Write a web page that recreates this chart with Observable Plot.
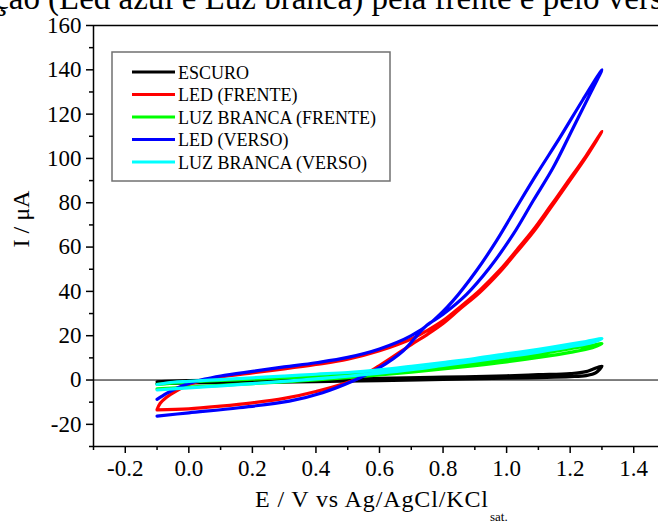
<!DOCTYPE html>
<html><head><meta charset="utf-8">
<script src="https://cdn.jsdelivr.net/npm/d3@7"></script>
<script src="https://cdn.jsdelivr.net/npm/@observablehq/plot@0.6"></script>
<style>
body{margin:0;background:#fff;}
#chart{position:relative;width:658px;height:523px;overflow:hidden;background:#fff}
svg{font-family:"Liberation Serif",serif}
</style>
</head><body><div id="chart"></div>
<script>
const seriesNames = ["ESCURO","LED (FRENTE)","LUZ BRANCA (FRENTE)","LED (VERSO)","LUZ BRANCA (VERSO)"];
const seriesColors = ["#000000","#ff0000","#00ff00","#0000ff","#00ffff"];

const escuroE = [-0.1,0,0.2,0.4,0.6,0.8,1.0,1.1,1.2,1.25,1.3,1.28,1.25,1.2,1.1,1.0,0.8,0.6,0.4,0.2,0,-0.1];
const escuroI = [-0.8,-0.3,0.1,0.4,0.8,1.3,1.9,2.4,2.9,3.8,6.3,3.2,2.0,1.5,1.1,0.8,0.3,-0.3,-0.7,-1.0,-1.3,-1.6];

const ledFrenteE = [-0.1,-0.09,-0.07,-0.04,0,0.05,0.1,0.2,0.3,0.4,0.5,0.6,0.7,0.75,0.8,0.853,0.916,0.979,1.032,1.084,1.137,1.189,1.25,1.3,1.25,1.189,1.137,1.084,1.032,0.979,0.916,0.853,0.8,0.75,0.7,0.6,0.52,0.4,0.3,0.2,0.1,0,-0.1];
const ledFrenteI = [-13.3,-10.5,-7.8,-5.0,-2.0,0,1.3,3.2,5.0,7.0,9.4,13.2,18.5,22.3,26.8,32.9,40.6,49.7,58.7,67.8,78.3,88.8,101.2,112.2,100.6,88.0,77.4,66.8,57.8,48.8,39.6,32.0,25.5,20.5,16.0,6.5,0,-5.2,-8.3,-10.3,-11.8,-13.0,-13.5];

const luzFrenteE = [-0.1,0,0.1,0.2,0.3,0.4,0.5,0.6,0.7,0.8,0.9,1.0,1.1,1.2,1.25,1.3,1.27,1.2,1.1,1.0,0.9,0.8,0.7,0.6,0.5,0.4,0.3,0.2,0.1,0,-0.1];
const luzFrenteI = [-2.0,-0.8,-0.2,0.4,1.0,1.7,2.5,3.4,4.6,6.0,7.6,9.6,11.6,14.2,15.2,16.4,14.6,12.5,10.2,8.2,6.5,5.0,3.6,2.3,1.1,0.1,-0.8,-1.6,-2.4,-3.2,-4.0];

const ledVersoE = [-0.1,-0.07,-0.04,0,0.05,0.1,0.2,0.3,0.4,0.5,0.6,0.7,0.768,0.831,0.905,0.968,1.031,1.095,1.168,1.24,1.3,1.268,1.21,1.147,1.084,1.021,0.947,0.874,0.8,0.75,0.726,0.674,0.6,0.516,0.421,0.316,0.158,0,-0.1];
const ledVersoI = [-8.7,-6.0,-3.8,-1.6,0.4,1.8,3.9,5.9,7.8,10.2,14.0,20.0,26.7,35.7,49.3,62.8,77.9,93,109.5,126.5,140,130.6,114,96,81,65.8,50.8,38.7,29.7,24.8,21.4,13.1,5.6,-0.45,-5.7,-9.5,-12.5,-14.8,-16.3];

const luzVersoE = [-0.1,-0.05,0,0.1,0.2,0.3,0.4,0.5,0.6,0.7,0.8,0.9,1.0,1.1,1.2,1.25,1.3,1.27,1.2,1.1,1.0,0.9,0.8,0.7,0.6,0.5,0.4,0.3,0.2,0.1,0,-0.1];
const luzVersoI = [-2.0,-1.0,-0.6,0.2,1.0,1.8,2.6,3.4,4.6,6.2,7.9,9.7,11.8,13.9,16.2,17.4,18.7,17.0,15.0,12.6,10.5,8.5,6.6,4.7,3.1,1.7,0.5,-0.6,-1.6,-2.6,-3.5,-4.5];

const xTicks = [-0.2,0.0,0.2,0.4,0.6,0.8,1.0,1.2,1.4];
const xMinor = [-0.3,-0.1,0.1,0.3,0.5,0.7,0.9,1.1,1.3];
const yTicks = [-20,0,20,40,60,80,100,120,140,160];
const yMinor = [-30,-10,10,30,50,70,90,110,130,150];

const seriesE = [escuroE, ledFrenteE, luzFrenteE, ledVersoE, luzVersoE];
const seriesI = [escuroI, ledFrenteI, luzFrenteI, ledVersoI, luzVersoI];
const rows = [];
seriesNames.forEach((name, k) => {
  seriesE[k].forEach((e, i) => rows.push({series: name, E: e, I: seriesI[k][i]}));
});

const plot = Plot.plot({
  width: 658, height: 523,
  marginLeft: 93, marginRight: -7, marginTop: 25, marginBottom: 77,
  x: {domain: [-0.3, 1.5], label: null},
  y: {domain: [-30, 160], label: null},
  color: {domain: seriesNames, range: seriesColors},
  style: {fontFamily: "Liberation Serif", background: "white", color: "black"},
  marks: [
    Plot.ruleY([0], {stroke: "black", strokeWidth: 1}),
    Plot.line(rows, {x: "E", y: "I", z: "series", stroke: "series", strokeWidth: 3.2, curve: "catmull-rom"}),
    Plot.ruleX([-0.3], {stroke: "black", strokeWidth: 1.5}),
    Plot.ruleY([-30], {stroke: "black", strokeWidth: 1.5}),
    Plot.ruleY([160], {stroke: "black", strokeWidth: 1.5}),
    Plot.axisX({ticks: xTicks, tickSize: 7, tickPadding: 6, strokeWidth: 1.5, fontSize: 23, label: null, tickFormat: d => d.toFixed(1)}),
    Plot.axisX({ticks: xMinor, tickSize: 4, strokeWidth: 1.5, label: null, tickFormat: () => ""}),
    Plot.axisY({ticks: yTicks, tickSize: 7, tickPadding: 5, strokeWidth: 1.5, fontSize: 23, label: null, tickFormat: d => String(d)}),
    Plot.axisY({ticks: yMinor, tickSize: 4, strokeWidth: 1.5, label: null, tickFormat: () => ""})
  ]
});
document.getElementById("chart").appendChild(plot);

const svg = d3.select(plot);
const ff = "Liberation Serif";
function txt(x, y, size, s, anchor) {
  return svg.append("text").attr("x", x).attr("y", y).attr("text-anchor", anchor || "start")
    .style("text-anchor", anchor || "start")
    .attr("font-family", ff).attr("font-size", size).style("font-size", size + "px").text(s);
}
// cut-off title at top
txt(40, 9, 33, "ação", "end");
txt(48, 9, 33, "(Led azul e Luz branca) pela frente e pelo verso");
// y label
svg.append("text").attr("transform", "translate(29,219) rotate(-90)")
  .attr("text-anchor", "middle").style("text-anchor", "middle")
  .attr("font-family", ff).style("font-size", "24px").text("I / μA");
// x label
txt(255, 507, 24, "E / V vs Ag/AgCl/KCl").attr("textLength", 233).attr("lengthAdjust", "spacing");
txt(490, 521, 13, "sat.");
// legend
const lg = svg.append("g");
lg.append("rect").attr("x", 112).attr("y", 52).attr("width", 278).attr("height", 129)
  .attr("fill", "white").attr("stroke", "#707070").attr("stroke-width", 1.5);
const rowY = [72, 94.5, 117, 139.5, 162];
seriesNames.forEach((name, i) => {
  lg.append("line").attr("x1", 132).attr("x2", 175).attr("y1", rowY[i]).attr("y2", rowY[i])
    .attr("stroke", seriesColors[i]).attr("stroke-width", 3);
  txt(178, rowY[i] + 6.5, 18, name);
});
</script>
</body></html>
